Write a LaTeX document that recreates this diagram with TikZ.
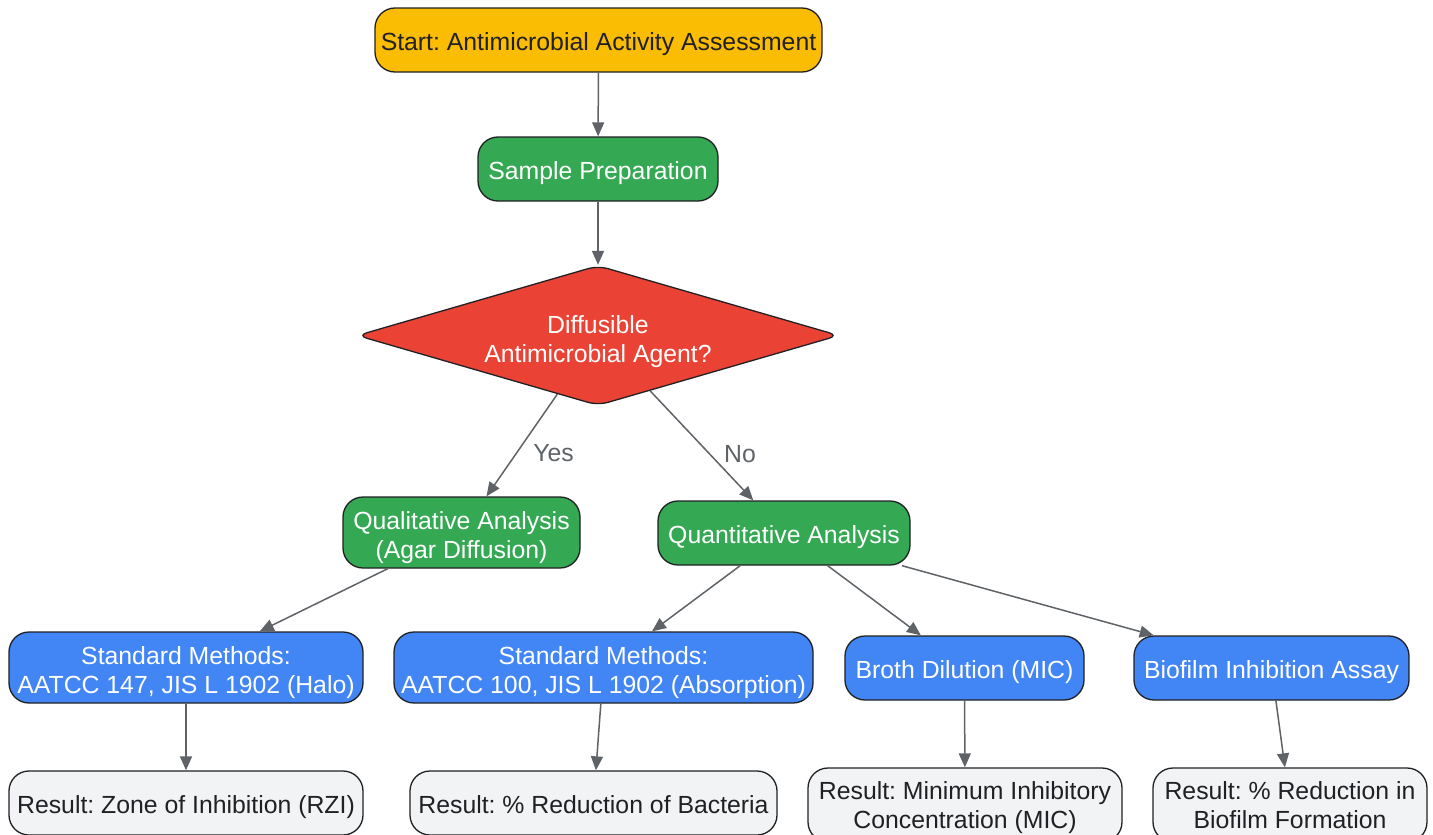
\documentclass[tikz,border=0pt]{standalone}
\usepackage{fontspec}
\setmainfont{Liberation Sans}
\usetikzlibrary{shapes.geometric,arrows.meta}
\definecolor{cyel}{HTML}{FBBC04}
\definecolor{cgreen}{HTML}{34A853}
\definecolor{cred}{HTML}{EA4335}
\definecolor{cblue}{HTML}{4285F4}
\definecolor{cgray}{HTML}{F1F3F4}
\definecolor{cborder}{HTML}{202124}
\definecolor{carrow}{HTML}{5F6368}
\newcommand{\linestrut}{\rule[-6pt]{0pt}{32pt}}
\newcommand{\topstrut}[1][28pt]{\rule{0pt}{#1}}
\frenchspacing
\begin{document}
\begin{tikzpicture}[x=1pt,y=-1pt,
  box/.style={draw=cborder, line width=1.3pt, rounded corners=20pt, align=center,
    font=\fontsize{24.8}{29}\selectfont, inner sep=0pt,
    execute at begin node=\linestrut, execute at end node=\linestrut},
  startbox/.style={box, fill=cyel, text=cborder},
  greenbox/.style={box, fill=cgreen, text=white},
  bluebox/.style={box, fill=cblue, text=white},
  resbox/.style={box, fill=cgray, text=cborder},
  decbox/.style={diamond, draw=cborder, line width=1.3pt, rounded corners=10pt, fill=cred, text=white,
    align=center, font=\fontsize{24.8}{29}\selectfont, inner sep=0pt, aspect=3.5,
    execute at begin node=\linestrut, execute at end node=\linestrut},
  conn/.style={draw=carrow, line width=1.5pt, -{Triangle[length=14pt,width=12pt]}},
  lbl/.style={text=carrow, font=\fontsize{24.8}{29}\selectfont}
]
\useasboundingbox (0,0) rectangle (1433,835);
\clip (0,0) rectangle (1433,835);

\node[startbox, minimum width=447pt, minimum height=64pt] (start) at (598.5,40) {Start: Antimicrobial Activity Assessment};
\node[greenbox, minimum width=240pt, minimum height=64pt] (sample) at (598,169) {Sample Preparation};
\node[decbox, minimum width=482pt, minimum height=140pt] (dec) at (598,335.5) {\topstrut[30pt]Diffusible\\Antimicrobial Agent?};
\node[greenbox, minimum width=237pt, minimum height=71pt] (qual) at (461.5,532.5) {\topstrut Qualitative Analysis\\(Agar Diffusion)};
\node[greenbox, minimum width=252pt, minimum height=64pt] (quant) at (784,533) {Quantitative Analysis};
\node[bluebox, minimum width=354pt, minimum height=71pt] (std1) at (186,667.5) {\topstrut Standard Methods:\\AATCC 147, JIS L 1902 (Halo)};
\node[bluebox, minimum width=419pt, minimum height=71pt] (std2) at (603.5,667.5) {\topstrut Standard Methods:\\AATCC 100, JIS L 1902 (Absorption)};
\node[bluebox, minimum width=239pt, minimum height=64pt] (broth) at (964.5,668) {Broth Dilution (MIC)};
\node[bluebox, minimum width=275pt, minimum height=64pt] (bio) at (1271.5,668) {Biofilm Inhibition Assay};
\node[resbox, minimum width=354pt, minimum height=64pt] (r1) at (186,803) {Result: Zone of Inhibition (RZI)};
\node[resbox, minimum width=367pt, minimum height=64pt] (r2) at (593.5,803) {Result: \% Reduction of Bacteria};
\node[resbox, minimum width=314pt, minimum height=74pt] (r3) at (965,805) {\topstrut[24pt]Result: Minimum Inhibitory\\Concentration (MIC)};
\node[resbox, minimum width=274pt, minimum height=74pt] (r4) at (1290,805) {\topstrut[24pt]Result: \% Reduction in\\Biofilm Formation};

\draw[conn] (start) -- (sample);
\draw[conn] (sample) -- (dec);
\draw[conn] (dec) -- node[lbl, pos=0.58, right=13pt] {Yes} (qual);
\draw[conn] (dec) -- node[lbl, pos=0.58, right=10pt] {No} (quant);
\draw[conn] (qual) -- (std1);
\draw[conn] (quant) -- (std2);
\draw[conn] (quant) -- (broth);
\draw[conn] (quant) -- (bio);
\draw[conn] (std1) -- (r1);
\draw[conn] (std2) -- (r2);
\draw[conn] (broth) -- (r3);
\draw[conn] (bio) -- (r4);
\end{tikzpicture}
\end{document}
